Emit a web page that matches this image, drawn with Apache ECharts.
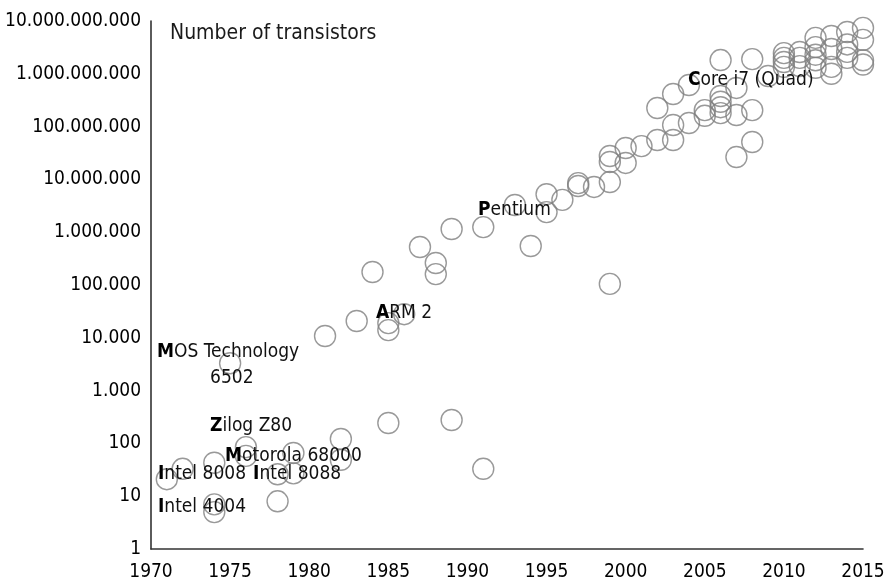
<!DOCTYPE html>
<html>
<head>
<meta charset="utf-8">
<script src="https://cdn.jsdelivr.net/npm/echarts@6/dist/echarts.min.js"></script>
<style>
  html, body { margin: 0; padding: 0; background: #fff; }
  #chart { width: 889px; height: 585px; }
</style>
</head>
<body>
<div id="chart"></div>
<script>
// chip data: year, transistor count
const years = [
  1971, 1972, 1974, 1974, 1974, 1975, 1976, 1976, 1978, 1978, 1979, 1979,
  1981, 1982, 1982, 1983, 1984, 1985, 1985, 1985, 1986, 1987, 1988, 1988,
  1989, 1989, 1991, 1991, 1993, 1994, 1995, 1995, 1996, 1997, 1997, 1998,
  1999, 1999, 1999, 1999, 2000, 2000, 2001, 2002, 2002, 2003, 2003, 2003,
  2004, 2004, 2005, 2005, 2006, 2006, 2006, 2006, 2006, 2007, 2007, 2007,
  2008, 2008, 2008, 2009, 2010, 2010, 2010, 2010, 2011, 2011, 2011,
  2012, 2012, 2012, 2012, 2012, 2013, 2013, 2013, 2013,
  2014, 2014, 2014, 2014, 2015, 2015, 2015, 2015, 2015
];
const transistors = [
  21, 33, 43, 7, 5, 3300, 85, 58, 26, 8, 66, 27,
  10800, 121, 49, 20800, 176000, 19000, 14000, 243, 28000, 525000, 261000, 161000,
  1150000, 277, 1250000, 33, 3270000, 548000, 5250000, 2400000, 4100000, 8500000, 7500000, 7200000,
  8900000, 27700000, 21400000, 105000, 20500000, 39300000, 42700000, 55700000, 225000000, 55700000, 107000000, 414000000,
  117000000, 614000000, 205000000, 160000000, 380000000, 295000000, 233000000, 180000000, 1820000000, 540000000, 166000000, 26500000,
  1900000000, 205000000, 51000000, 910000000, 2460000000, 2000000000, 1670000000, 1350000000, 2580000000, 2000000000, 1400000000,
  4800000000, 3200000000, 2300000000, 1800000000, 1300000000, 5200000000, 2950000000, 1350000000, 1000000000,
  6200000000, 3600000000, 2600000000, 2000000000, 10400000000, 7400000000, 4400000000, 1800000000, 1500000000
];

// annotation text and where its left edge sits (year, count)
const noteTexts = ['MOS Technology', '6502', 'Zilog Z80', 'Motorola 68000', 'Intel 8008',
  'Intel 8088', 'Intel 4004', 'ARM 2', 'Pentium', 'Core i7 (Quad)'];
const noteYears = [1970.38, 1973.73, 1973.73, 1974.68, 1970.44, 1976.45, 1970.44, 1984.22, 1990.67, 2003.94];
const noteCounts = [5400, 1740, 214, 58, 26, 26, 6.2, 29500, 2630000, 760000000];
const noteBold = [true, false, true, true, true, true, true, true, true, true];

const xTicks = [1970, 2015, 5];
const yRange = [1, 1e10];

const FONT = '"Liberation Sans Narrow", "DejaVu Sans Condensed", "Roboto", sans-serif';

function dotted(v) {
  return String(Math.round(v)).replace(/\B(?=(\d{3})+(?!\d))/g, '.');
}

const points = years.map((y, i) => [y, transistors[i]]);

const chart = echarts.init(document.getElementById('chart'));
chart.setOption({
  animation: false,
  title: {
    text: 'Number of transistors',
    left: 165,
    top: 18,
    textStyle: { fontFamily: FONT, fontSize: 21, fontWeight: 'normal', color: '#1a1a1a' }
  },
  grid: { left: 151, right: 26, top: 21, bottom: 36, containLabel: false, outerBoundsMode: 'none' },
  xAxis: {
    type: 'value',
    min: xTicks[0],
    max: xTicks[1],
    interval: xTicks[2],
    axisLine: { show: true, lineStyle: { color: '#333', width: 1.6 } },
    axisTick: { show: false },
    splitLine: { show: false },
    axisLabel: { fontFamily: FONT, fontSize: 19, color: '#000', margin: 14, formatter: v => String(v) }
  },
  yAxis: {
    type: 'log',
    logBase: 10,
    min: yRange[0],
    max: yRange[1],
    interval: 1,
    axisLine: { show: true, lineStyle: { color: '#333', width: 1.6 } },
    axisTick: { show: false },
    splitLine: { show: false },
    axisLabel: { fontFamily: FONT, fontSize: 19, color: '#000', margin: 10, formatter: dotted }
  },
  series: [{
    type: 'scatter',
    data: points,
    symbol: 'circle',
    symbolSize: 21,
    itemStyle: { color: 'rgba(0,0,0,0)', borderColor: '#7f7f7f', borderWidth: 1.4 },
    emphasis: { disabled: true }
  }]
});

// annotations pinned to data coordinates
const notes = noteTexts.map((t, i) => {
  const p = chart.convertToPixel({ gridIndex: 0 }, [noteYears[i], noteCounts[i]]);
  const txt = noteBold[i] ? '{b|' + t.charAt(0) + '}' + t.slice(1) : t;
  return {
    type: 'text',
    x: p[0],
    y: p[1],
    z: 10,
    style: {
      text: txt,
      fontFamily: FONT,
      fontSize: 19,
      fill: '#111',
      verticalAlign: 'middle',
      align: 'left',
      rich: { b: { fontFamily: FONT, fontSize: 19, fontWeight: 'bold', fill: '#000' } }
    }
  };
});
chart.setOption({ graphic: notes });
</script>
</body>
</html>
